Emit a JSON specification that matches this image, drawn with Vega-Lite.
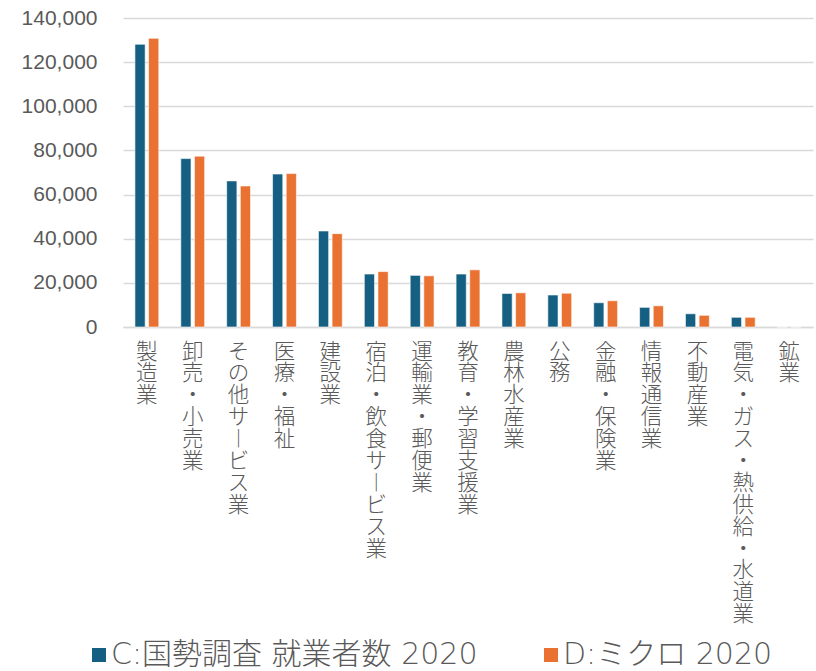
{
  "$schema": "https://vega.github.io/schema/vega-lite/v6.json",
  "autosize": {"type": "none"},
  "width": 690,
  "height": 309,
  "padding": {"left": 123, "top": 18, "right": 3, "bottom": 344},
  "background": "white",
  "data": {
    "values": [
      {"industry": "製造業", "series": "C:国勢調査 就業者数 2020", "value": 128100},
      {"industry": "製造業", "series": "D:ミクロ 2020", "value": 130800},
      {"industry": "卸売・小売業", "series": "C:国勢調査 就業者数 2020", "value": 76300},
      {"industry": "卸売・小売業", "series": "D:ミクロ 2020", "value": 77400},
      {"industry": "その他サービス業", "series": "C:国勢調査 就業者数 2020", "value": 66200},
      {"industry": "その他サービス業", "series": "D:ミクロ 2020", "value": 63900},
      {"industry": "医療・福祉", "series": "C:国勢調査 就業者数 2020", "value": 69300},
      {"industry": "医療・福祉", "series": "D:ミクロ 2020", "value": 69500},
      {"industry": "建設業", "series": "C:国勢調査 就業者数 2020", "value": 43500},
      {"industry": "建設業", "series": "D:ミクロ 2020", "value": 42300},
      {"industry": "宿泊・飲食サービス業", "series": "C:国勢調査 就業者数 2020", "value": 24000},
      {"industry": "宿泊・飲食サービス業", "series": "D:ミクロ 2020", "value": 25100},
      {"industry": "運輸業・郵便業", "series": "C:国勢調査 就業者数 2020", "value": 23400},
      {"industry": "運輸業・郵便業", "series": "D:ミクロ 2020", "value": 23200},
      {"industry": "教育・学習支援業", "series": "C:国勢調査 就業者数 2020", "value": 24000},
      {"industry": "教育・学習支援業", "series": "D:ミクロ 2020", "value": 25900},
      {"industry": "農林水産業", "series": "C:国勢調査 就業者数 2020", "value": 15200},
      {"industry": "農林水産業", "series": "D:ミクロ 2020", "value": 15500},
      {"industry": "公務", "series": "C:国勢調査 就業者数 2020", "value": 14500},
      {"industry": "公務", "series": "D:ミクロ 2020", "value": 15300},
      {"industry": "金融・保険業", "series": "C:国勢調査 就業者数 2020", "value": 11000},
      {"industry": "金融・保険業", "series": "D:ミクロ 2020", "value": 11900},
      {"industry": "情報通信業", "series": "C:国勢調査 就業者数 2020", "value": 8900},
      {"industry": "情報通信業", "series": "D:ミクロ 2020", "value": 9600},
      {"industry": "不動産業", "series": "C:国勢調査 就業者数 2020", "value": 6000},
      {"industry": "不動産業", "series": "D:ミクロ 2020", "value": 5300},
      {"industry": "電気・ガス・熱供給・水道業", "series": "C:国勢調査 就業者数 2020", "value": 4400},
      {"industry": "電気・ガス・熱供給・水道業", "series": "D:ミクロ 2020", "value": 4400},
      {"industry": "鉱業", "series": "C:国勢調査 就業者数 2020", "value": 0},
      {"industry": "鉱業", "series": "D:ミクロ 2020", "value": 0}
    ]
  },
  "mark": {"type": "bar", "stroke": "white", "strokeWidth": 0.6},
  "encoding": {
    "x": {
      "field": "industry",
      "type": "nominal",
      "sort": null,
      "scale": {"paddingInner": 0.48, "paddingOuter": 0.26},
      "axis": {
        "title": null,
        "labelAngle": 0,
        "labelAlign": "center",
        "labelBaseline": "top",
        "labelExpr": "split(replace(datum.label, 'ー', '︱'), '')",
        "labelFont": "Noto Sans CJK JP",
        "labelFontWeight": 300,
        "labelFontSize": 21.5,
        "labelLineHeight": 21.9,
        "labelColor": "#595959",
        "labelPadding": 14,
        "labelLimit": 0,
        "labelOverlap": false,
        "ticks": false,
        "domain": true,
        "domainColor": "#d9d9d9",
        "domainWidth": 1.3
      }
    },
    "xOffset": {
      "field": "series",
      "type": "nominal",
      "sort": null,
      "scale": {"paddingInner": 0.25}
    },
    "y": {
      "field": "value",
      "type": "quantitative",
      "scale": {"domain": [0, 140000], "nice": false},
      "axis": {
        "title": null,
        "values": [0, 20000, 40000, 60000, 80000, 100000, 120000, 140000],
        "format": ",d",
        "labelFont": "Liberation Sans",
        "labelFontSize": 21,
        "labelColor": "#595959",
        "labelPadding": 26,
        "domain": false,
        "ticks": false,
        "grid": true,
        "gridColor": "#d9d9d9",
        "gridWidth": 1.3
      }
    },
    "color": {
      "field": "series",
      "type": "nominal",
      "sort": null,
      "scale": {
        "domain": ["C:国勢調査 就業者数 2020", "D:ミクロ 2020"],
        "range": ["#156082", "#E97132"]
      },
      "legend": {
        "title": null,
        "orient": "none",
        "legendX": -39,
        "legendY": 622,
        "direction": "horizontal",
        "columns": 2,
        "columnPadding": 58,
        "padding": 0,
        "symbolType": "square",
        "symbolSize": 196,
        "symbolStrokeWidth": 0,
        "labelFont": "DejaVu Sans, Noto Sans CJK JP",
        "labelFontWeight": 300,
        "labelFontSize": 30,
        "labelColor": "#595959",
        "labelOffset": -3,
        "labelLimit": 0
      }
    }
  },
  "config": {"view": {"stroke": null}}
}
